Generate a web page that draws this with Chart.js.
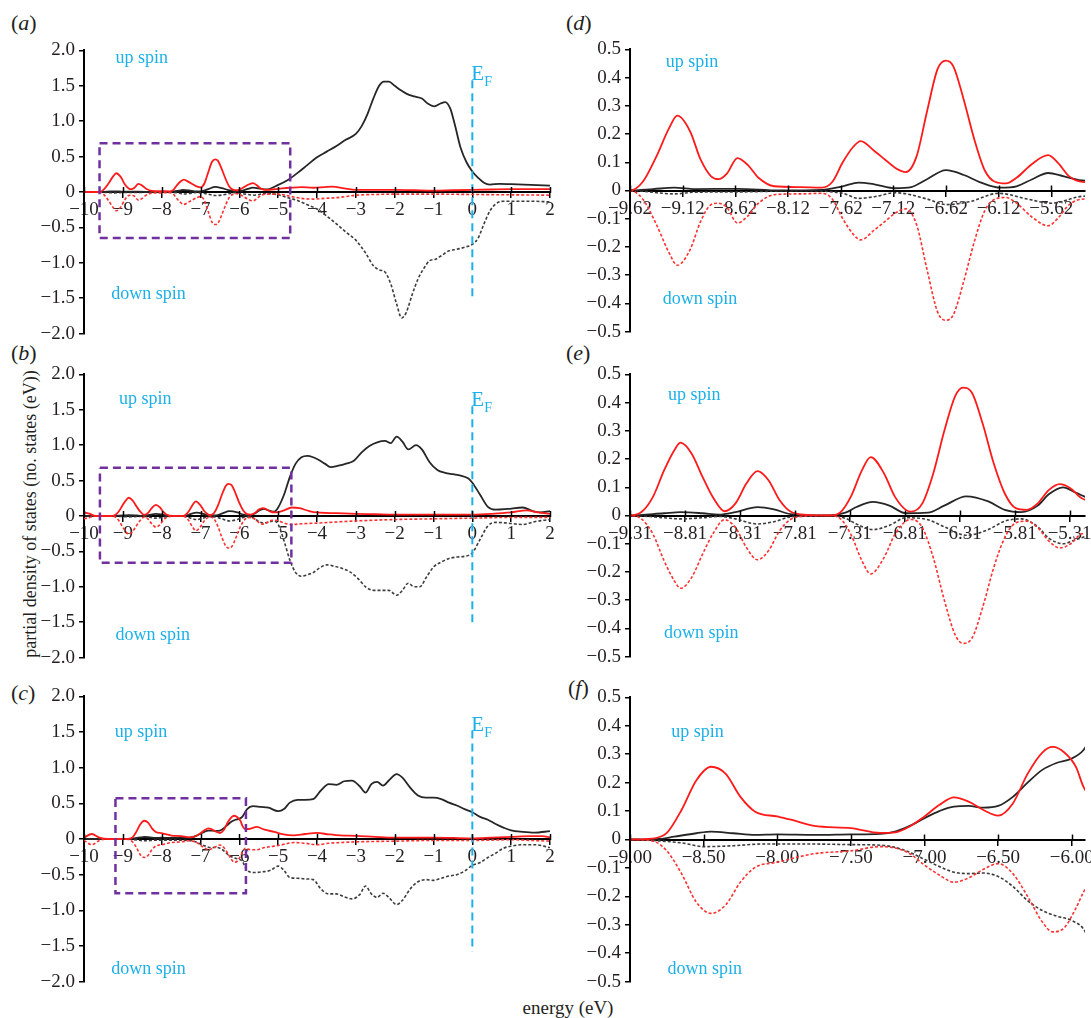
<!DOCTYPE html>
<html>
<head>
<meta charset="utf-8">
<script src="https://cdn.jsdelivr.net/npm/chart.js@4.4.1/dist/chart.umd.min.js"></script>
<style>
  body { margin: 0; background: #fff; }
  #fig { position: relative; width: 1091px; height: 1018px; font-family: 'Liberation Serif', 'DejaVu Serif', serif; color: #231f20; overflow: hidden; }
  #fig canvas { position: absolute; }
  .tag { position: absolute; font-size: 22px; line-height: 22px; }
  .ytitle { position: absolute; left: 30px; top: 514px; transform: translate(-50%, -50%) rotate(-90deg); font-size: 18px; white-space: nowrap; }
  .xtitle { position: absolute; left: 568px; top: 1008px; transform: translate(-50%, -50%); font-size: 19px; white-space: nowrap; }
</style>
</head>
<body>
<div id="fig">
  <div class="tag" style="left:11px;top:12px">(<i>a</i>)</div>
  <div class="tag" style="left:11px;top:342px">(<i>b</i>)</div>
  <div class="tag" style="left:11px;top:682px">(<i>c</i>)</div>
  <div class="tag" style="left:566px;top:12px">(<i>d</i>)</div>
  <div class="tag" style="left:566px;top:342px">(<i>e</i>)</div>
  <div class="tag" style="left:568px;top:677px">(<i>f</i>)</div>
  <div class="ytitle">partial density of states (no. states (eV))</div>
  <div class="xtitle">energy (eV)</div>
</div>
<script>
// tick positions
const leftXTicks = [-10, -9, -8, -7, -6, -5, -4, -3, -2, -1, 0, 1, 2];
const leftYTicks = [-2, -1.5, -1, -0.5, 0, 0.5, 1, 1.5, 2];
const rightYTicks = [-0.5, -0.4, -0.3, -0.2, -0.1, 0, 0.1, 0.2, 0.3, 0.4, 0.5];
const dXTicks = [-9.62, -9.12, -8.62, -8.12, -7.62, -7.12, -6.62, -6.12, -5.62];
const eXTicks = [-9.31, -8.81, -8.31, -7.81, -7.31, -6.81, -6.31, -5.81, -5.31];
const fXTicks = [-9.00, -8.50, -8.00, -7.50, -7.00, -6.50, -6.00];

// panel (a) / (d) series: [energy, pdos]
const aUpBlack = [[-10,0],[-9.62,0],[-9.4,0.005],[-9.2,0.01],[-9.0,0.005],[-8.6,0.006],[-8.2,0],[-7.8,0.002],[-7.6,0.015],[-7.45,0.028],[-7.3,0.022],[-7.1,0.008],[-6.95,0.012],[-6.8,0.04],[-6.62,0.072],[-6.45,0.055],[-6.3,0.03],[-6.1,0.01],[-5.95,0.015],[-5.8,0.04],[-5.65,0.062],[-5.5,0.05],[-5.3,0.035],[-5.0,0.1],[-4.75,0.17],[-4.5,0.27],[-4.25,0.38],[-4.0,0.49],[-3.75,0.57],[-3.5,0.65],[-3.25,0.74],[-3.0,0.82],[-2.85,0.93],[-2.7,1.1],[-2.55,1.32],[-2.4,1.5],[-2.28,1.56],[-2.15,1.56],[-2.0,1.5],[-1.85,1.44],[-1.7,1.39],[-1.5,1.35],[-1.3,1.32],[-1.15,1.25],[-0.98,1.21],[-0.82,1.25],[-0.7,1.27],[-0.57,1.18],[-0.45,0.95],[-0.3,0.62],[-0.15,0.42],[0,0.29],[0.15,0.2],[0.3,0.13],[0.45,0.105],[0.7,0.115],[1.0,0.11],[1.5,0.1],[2.0,0.09]];
const aDownBlack = [[-10,0],[-9.62,0],[-9.2,-0.012],[-9.0,-0.006],[-8.6,-0.005],[-8.0,-0.001],[-7.6,-0.01],[-7.45,-0.028],[-7.3,-0.022],[-7.1,-0.008],[-6.8,-0.03],[-6.62,-0.05],[-6.4,-0.04],[-6.12,-0.01],[-5.85,-0.03],[-5.62,-0.045],[-5.3,-0.02],[-5.0,-0.04],[-4.75,-0.08],[-4.5,-0.12],[-4.25,-0.18],[-4.0,-0.24],[-3.75,-0.34],[-3.5,-0.45],[-3.25,-0.57],[-3.0,-0.68],[-2.75,-0.86],[-2.55,-1.04],[-2.4,-1.1],[-2.25,-1.13],[-2.1,-1.3],[-1.95,-1.58],[-1.82,-1.78],[-1.7,-1.7],[-1.55,-1.45],[-1.4,-1.23],[-1.25,-1.08],[-1.1,-0.97],[-0.95,-0.95],[-0.8,-0.9],[-0.6,-0.83],[-0.4,-0.81],[-0.2,-0.78],[0,-0.74],[0.15,-0.65],[0.3,-0.45],[0.45,-0.27],[0.6,-0.17],[0.8,-0.13],[1.0,-0.13],[1.5,-0.13],[2.0,-0.14]];
const aUpRed = [[-10,0],[-9.62,0],[-9.5,0.03],[-9.37,0.12],[-9.25,0.22],[-9.17,0.265],[-9.05,0.21],[-8.95,0.11],[-8.85,0.05],[-8.78,0.04],[-8.7,0.06],[-8.6,0.115],[-8.5,0.09],[-8.4,0.045],[-8.25,0.015],[-8.0,0.012],[-7.8,0.01],[-7.7,0.03],[-7.6,0.1],[-7.5,0.155],[-7.43,0.175],[-7.3,0.14],[-7.2,0.11],[-7.1,0.08],[-7.0,0.065],[-6.9,0.12],[-6.8,0.28],[-6.7,0.43],[-6.62,0.46],[-6.55,0.44],[-6.45,0.32],[-6.35,0.18],[-6.25,0.07],[-6.15,0.03],[-6.05,0.025],[-5.95,0.045],[-5.8,0.095],[-5.65,0.125],[-5.55,0.095],[-5.45,0.05],[-5.3,0.03],[-5.0,0.045],[-4.7,0.06],[-4.4,0.07],[-4.1,0.06],[-3.8,0.07],[-3.6,0.075],[-3.3,0.05],[-3.0,0.03],[-2.5,0.03],[-2.0,0.03],[-1.5,0.025],[-1.0,0.02],[-0.5,0.025],[0,0.03],[0.5,0.035],[1.0,0.04],[1.5,0.04],[2.0,0.04]];
const aDownRed = [[-10,0],[-9.62,0],[-9.5,-0.03],[-9.37,-0.12],[-9.25,-0.22],[-9.17,-0.265],[-9.05,-0.21],[-8.95,-0.11],[-8.85,-0.05],[-8.78,-0.045],[-8.7,-0.06],[-8.6,-0.115],[-8.5,-0.09],[-8.4,-0.045],[-8.25,-0.015],[-8.0,-0.012],[-7.8,-0.01],[-7.7,-0.03],[-7.6,-0.1],[-7.5,-0.155],[-7.43,-0.175],[-7.3,-0.14],[-7.2,-0.11],[-7.1,-0.08],[-7.0,-0.065],[-6.9,-0.12],[-6.8,-0.28],[-6.7,-0.43],[-6.62,-0.46],[-6.55,-0.44],[-6.45,-0.32],[-6.35,-0.18],[-6.25,-0.07],[-6.15,-0.03],[-6.05,-0.025],[-5.95,-0.045],[-5.8,-0.095],[-5.65,-0.125],[-5.55,-0.095],[-5.45,-0.05],[-5.3,-0.03],[-5.0,-0.03],[-4.7,-0.06],[-4.4,-0.09],[-4.1,-0.1],[-3.8,-0.09],[-3.5,-0.08],[-3.2,-0.06],[-3.0,-0.045],[-2.5,-0.035],[-2.0,-0.03],[-1.0,-0.03],[0,-0.035],[1.0,-0.04],[2.0,-0.045]];

// panel (b) / (e) series
const bUpBlack = [[-10,0],[-9.31,0],[-9.0,0.008],[-8.85,0.012],[-8.65,0.008],[-8.5,0.003],[-8.35,0.012],[-8.15,0.03],[-8.0,0.022],[-7.85,0.005],[-7.5,0],[-7.35,0.01],[-7.25,0.03],[-7.1,0.048],[-6.95,0.035],[-6.8,0.008],[-6.6,0.01],[-6.45,0.035],[-6.25,0.068],[-6.05,0.05],[-5.9,0.02],[-5.75,0.012],[-5.6,0.035],[-5.5,0.075],[-5.37,0.1],[-5.25,0.08],[-5.1,0.06],[-5.0,0.12],[-4.85,0.3],[-4.7,0.55],[-4.55,0.74],[-4.4,0.83],[-4.25,0.85],[-4.1,0.83],[-3.95,0.79],[-3.8,0.74],[-3.65,0.69],[-3.45,0.71],[-3.25,0.74],[-3.05,0.78],[-2.85,0.9],[-2.65,0.99],[-2.45,1.04],[-2.25,1.06],[-2.1,1.03],[-1.95,1.12],[-1.8,1.05],[-1.65,0.94],[-1.45,1.0],[-1.3,0.94],[-1.1,0.76],[-0.9,0.65],[-0.7,0.61],[-0.5,0.59],[-0.3,0.57],[-0.1,0.53],[0,0.47],[0.2,0.3],[0.4,0.13],[0.6,0.09],[0.9,0.1],[1.3,0.12],[1.55,0.07],[1.75,0.05],[2.0,0.07]];
const bDownBlack = [[-10,0],[-9.31,0],[-9.0,-0.008],[-8.85,-0.012],[-8.65,-0.008],[-8.5,-0.003],[-8.35,-0.012],[-8.15,-0.03],[-8.0,-0.022],[-7.85,-0.005],[-7.5,0],[-7.35,-0.01],[-7.25,-0.03],[-7.1,-0.05],[-6.95,-0.035],[-6.8,-0.008],[-6.6,-0.015],[-6.45,-0.04],[-6.25,-0.07],[-6.05,-0.05],[-5.9,-0.02],[-5.75,-0.012],[-5.6,-0.04],[-5.5,-0.08],[-5.37,-0.1],[-5.25,-0.085],[-5.1,-0.07],[-5.0,-0.12],[-4.85,-0.35],[-4.7,-0.62],[-4.55,-0.8],[-4.4,-0.85],[-4.25,-0.83],[-4.1,-0.8],[-3.95,-0.74],[-3.75,-0.69],[-3.55,-0.71],[-3.35,-0.74],[-3.15,-0.79],[-2.95,-0.88],[-2.75,-1.0],[-2.55,-1.05],[-2.35,-1.05],[-2.15,-1.05],[-1.95,-1.12],[-1.8,-1.05],[-1.65,-0.95],[-1.5,-1.0],[-1.35,-1.0],[-1.2,-0.88],[-1.0,-0.72],[-0.8,-0.65],[-0.6,-0.6],[-0.4,-0.58],[-0.2,-0.57],[0,-0.52],[0.2,-0.33],[0.4,-0.14],[0.6,-0.09],[0.9,-0.1],[1.3,-0.12],[1.6,-0.08],[2.0,-0.05]];
const bUpRed = [[-10,0.05],[-9.85,0.03],[-9.7,0],[-9.31,0],[-9.2,0.014],[-9.1,0.067],[-9.0,0.16],[-8.9,0.236],[-8.85,0.258],[-8.75,0.22],[-8.65,0.137],[-8.55,0.061],[-8.45,0.015],[-8.35,0.043],[-8.25,0.114],[-8.15,0.157],[-8.05,0.125],[-7.95,0.055],[-7.85,0.014],[-7.7,0.002],[-7.5,0],[-7.4,0.01],[-7.3,0.067],[-7.2,0.16],[-7.12,0.207],[-7.0,0.15],[-6.9,0.067],[-6.8,0.02],[-6.75,0.014],[-6.65,0.043],[-6.55,0.15],[-6.45,0.3],[-6.35,0.424],[-6.28,0.453],[-6.2,0.436],[-6.1,0.324],[-6.0,0.184],[-5.9,0.078],[-5.8,0.026],[-5.7,0.02],[-5.6,0.043],[-5.5,0.09],[-5.4,0.111],[-5.3,0.096],[-5.2,0.061],[-5.05,0.05],[-4.85,0.08],[-4.65,0.12],[-4.45,0.11],[-4.2,0.07],[-4.0,0.05],[-3.5,0.04],[-3.0,0.03],[-2.5,0.025],[-2.0,0.02],[-1.0,0.02],[0,0.02],[0.5,0.03],[1.0,0.05],[1.4,0.08],[1.7,0.05],[2.0,0.03]];
const bDownRed = [[-10,-0.04],[-9.85,-0.02],[-9.7,0],[-9.31,0],[-9.2,-0.014],[-9.1,-0.067],[-9.0,-0.16],[-8.9,-0.236],[-8.85,-0.258],[-8.75,-0.22],[-8.65,-0.137],[-8.55,-0.061],[-8.45,-0.015],[-8.35,-0.043],[-8.25,-0.114],[-8.15,-0.157],[-8.05,-0.125],[-7.95,-0.055],[-7.85,-0.014],[-7.7,-0.002],[-7.5,0],[-7.4,-0.01],[-7.3,-0.067],[-7.2,-0.16],[-7.12,-0.207],[-7.0,-0.15],[-6.9,-0.067],[-6.8,-0.02],[-6.75,-0.014],[-6.65,-0.043],[-6.55,-0.15],[-6.45,-0.3],[-6.35,-0.424],[-6.28,-0.453],[-6.2,-0.436],[-6.1,-0.324],[-6.0,-0.184],[-5.9,-0.078],[-5.8,-0.026],[-5.7,-0.02],[-5.6,-0.043],[-5.5,-0.09],[-5.4,-0.115],[-5.3,-0.1],[-5.2,-0.065],[-5.05,-0.06],[-4.85,-0.1],[-4.65,-0.12],[-4.4,-0.11],[-4.0,-0.1],[-3.0,-0.07],[-2.0,-0.05],[-1.0,-0.04],[0,-0.03],[1.0,-0.02],[2.0,-0.02]];

// panel (c) / (f) series
const cUpBlack = [[-10,0],[-9.0,0],[-8.8,0.002],[-8.7,0.01],[-8.55,0.022],[-8.45,0.028],[-8.3,0.022],[-8.15,0.016],[-8.0,0.018],[-7.75,0.016],[-7.5,0.018],[-7.3,0.02],[-7.2,0.028],[-7.1,0.048],[-7.0,0.075],[-6.9,0.1],[-6.8,0.116],[-6.7,0.118],[-6.6,0.112],[-6.5,0.118],[-6.4,0.15],[-6.3,0.2],[-6.2,0.245],[-6.1,0.27],[-6.0,0.285],[-5.92,0.315],[-5.8,0.42],[-5.65,0.46],[-5.45,0.45],[-5.25,0.44],[-5.0,0.39],[-4.85,0.42],[-4.7,0.51],[-4.5,0.55],[-4.3,0.55],[-4.1,0.56],[-3.9,0.68],[-3.7,0.77],[-3.5,0.76],[-3.3,0.81],[-3.1,0.82],[-2.9,0.74],[-2.75,0.65],[-2.6,0.77],[-2.45,0.8],[-2.3,0.75],[-2.15,0.82],[-1.95,0.91],[-1.8,0.86],[-1.6,0.72],[-1.4,0.61],[-1.2,0.58],[-1.0,0.58],[-0.8,0.56],[-0.6,0.51],[-0.4,0.47],[-0.2,0.42],[0,0.375],[0.2,0.31],[0.4,0.27],[0.6,0.21],[0.8,0.16],[1.0,0.12],[1.3,0.1],[1.6,0.09],[2.0,0.11]];
const cDownBlack = [[-10,0],[-9.0,0],[-8.8,-0.005],[-8.65,-0.012],[-8.5,-0.025],[-8.3,-0.022],[-8.1,-0.016],[-7.75,-0.016],[-7.5,-0.018],[-7.3,-0.02],[-7.15,-0.035],[-7.0,-0.07],[-6.9,-0.095],[-6.8,-0.115],[-6.7,-0.12],[-6.6,-0.118],[-6.5,-0.13],[-6.4,-0.165],[-6.3,-0.215],[-6.2,-0.25],[-6.1,-0.27],[-6.0,-0.285],[-5.92,-0.315],[-5.8,-0.44],[-5.6,-0.47],[-5.4,-0.46],[-5.2,-0.44],[-5.0,-0.38],[-4.85,-0.44],[-4.7,-0.54],[-4.5,-0.55],[-4.3,-0.56],[-4.1,-0.57],[-3.9,-0.7],[-3.7,-0.77],[-3.5,-0.77],[-3.3,-0.81],[-3.1,-0.84],[-2.9,-0.78],[-2.75,-0.66],[-2.6,-0.77],[-2.45,-0.82],[-2.3,-0.76],[-2.15,-0.82],[-1.95,-0.92],[-1.8,-0.86],[-1.6,-0.7],[-1.4,-0.6],[-1.2,-0.57],[-1.0,-0.58],[-0.8,-0.55],[-0.6,-0.52],[-0.4,-0.5],[-0.2,-0.45],[0,-0.37],[0.2,-0.33],[0.4,-0.26],[0.6,-0.2],[0.8,-0.13],[1.0,-0.1],[1.3,-0.08],[1.6,-0.08],[2.0,-0.12]];
const cUpRed = [[-10,0.02],[-9.8,0.07],[-9.6,0.02],[-9.4,0],[-9.0,0],[-8.85,0.003],[-8.75,0.023],[-8.65,0.104],[-8.55,0.208],[-8.45,0.256],[-8.35,0.231],[-8.25,0.15],[-8.15,0.098],[-8.0,0.081],[-7.9,0.069],[-7.75,0.048],[-7.5,0.04],[-7.3,0.023],[-7.2,0.025],[-7.1,0.046],[-7.0,0.081],[-6.9,0.121],[-6.8,0.148],[-6.7,0.133],[-6.6,0.104],[-6.5,0.084],[-6.4,0.127],[-6.3,0.231],[-6.2,0.306],[-6.13,0.326],[-6.05,0.306],[-5.97,0.254],[-5.92,0.185],[-5.85,0.14],[-5.75,0.14],[-5.55,0.17],[-5.35,0.13],[-5.1,0.1],[-4.9,0.07],[-4.6,0.05],[-4.3,0.07],[-4.0,0.085],[-3.7,0.065],[-3.4,0.05],[-3.0,0.045],[-2.5,0.03],[-2.0,0.02],[-1.0,0.02],[-0.5,0.015],[0,0.01],[0.5,0.02],[1.0,0.03],[1.5,0.04],[1.8,0.04],[2.0,0.02]];
const cDownRed = [[-10,-0.02],[-9.8,-0.08],[-9.6,-0.02],[-9.4,0],[-9.0,0],[-8.85,-0.005],[-8.75,-0.04],[-8.65,-0.12],[-8.55,-0.22],[-8.45,-0.26],[-8.35,-0.23],[-8.25,-0.15],[-8.15,-0.098],[-8.0,-0.08],[-7.75,-0.05],[-7.5,-0.04],[-7.3,-0.025],[-7.2,-0.03],[-7.1,-0.05],[-7.0,-0.09],[-6.9,-0.125],[-6.8,-0.15],[-6.7,-0.135],[-6.6,-0.105],[-6.5,-0.085],[-6.4,-0.12],[-6.3,-0.2],[-6.2,-0.29],[-6.13,-0.325],[-6.05,-0.31],[-5.97,-0.24],[-5.92,-0.185],[-5.85,-0.13],[-5.7,-0.15],[-5.55,-0.15],[-5.35,-0.12],[-5.1,-0.1],[-4.9,-0.08],[-4.6,-0.05],[-4.3,-0.06],[-4.0,-0.08],[-3.7,-0.06],[-3.4,-0.05],[-3.0,-0.04],[-2.0,-0.03],[-1.0,-0.02],[0,-0.02],[1.0,-0.01],[1.5,-0.02],[2.0,-0.03]];

// marked windows [xFrom, xTo, yTop, yBottom] and Fermi line extents [top, bottom]
const boxA = [-9.6, -4.69, 0.69, -0.65];
const boxB = [-9.59, -4.66, 0.68, -0.66];
const boxC = [-9.19, -5.83, 0.57, -0.76];
const efA = [1.58, -1.51];
const efB = [1.55, -1.54];
const efC = [1.52, -1.58];

const CYAN = '#1cb0e8';
const FONT = "'Liberation Serif', 'DejaVu Serif', serif";
const minus = s => s.replace('-', '\u2212');

// in-plot labels and the crossing tick marks on the zero line
const panelText = {
  id: 'panelText',
  afterDatasetsDraw(chart, args, opts) {
    const { ctx } = chart;
    const x = chart.scales.x, y = chart.scales.y;
    ctx.save();
    const y0 = y.getPixelForValue(0);
    ctx.strokeStyle = '#000';
    ctx.lineWidth = 1.5;
    x.ticks.forEach(t => {
      const px = Math.round(x.getPixelForValue(t.value)) + 0.5;
      ctx.beginPath();
      ctx.moveTo(px, y0 - 5);
      ctx.lineTo(px, y0 + 1);
      ctx.stroke();
    });
    ctx.fillStyle = CYAN;
    ctx.font = '18px ' + FONT;
    ctx.textAlign = 'left';
    ctx.textBaseline = 'middle';
    ctx.fillText('up spin', x.getPixelForValue(opts.up[0]), y.getPixelForValue(opts.up[1]));
    ctx.fillText('down spin', x.getPixelForValue(opts.down[0]), y.getPixelForValue(opts.down[1]));
    if (opts.ef) {
      const px = x.getPixelForValue(0) - 1;
      const py = y.getPixelForValue(opts.ef[0]);
      ctx.textBaseline = 'alphabetic';
      ctx.font = '21px ' + FONT;
      ctx.fillText('E', px, py);
      const w = ctx.measureText('E').width;
      ctx.font = '14px ' + FONT;
      ctx.fillText('F', px + w, py + 6);
    }
    ctx.restore();
  }
};

const toXY = arr => arr.map(p => ({ x: p[0], y: p[1] }));

function makePanel(p) {
  const yW = 52, padT = 14, padB = 14, padR = 12;
  const [aL, aT, aR, aB] = p.area;
  const left = aL - yW, top = aT - padT;
  const w = aR - left + padR, h = aB - aT + padT + padB;
  const canvas = document.createElement('canvas');
  canvas.width = w; canvas.height = h;
  canvas.style.left = left + 'px'; canvas.style.top = top + 'px';
  canvas.style.width = w + 'px'; canvas.style.height = h + 'px';
  document.getElementById('fig').appendChild(canvas);

  const line = (data, color, dashed) => ({
    data: toXY(data), borderColor: color, borderWidth: dashed ? 1.6 : 1.8,
    borderDash: dashed ? [3, 2] : [], pointRadius: 0, cubicInterpolationMode: 'monotone', fill: false
  });
  const datasets = [];
  if (p.box) {
    const [x0, x1, y0, y1] = p.box;
    datasets.push({ data: toXY([[x0, y0], [x1, y0], [x1, y1], [x0, y1], [x0, y0]]), borderColor: '#7030a0',
      borderWidth: 2.5, borderDash: [8, 5], pointRadius: 0, tension: 0, fill: false });
  }
  if (p.ef) {
    datasets.push({ data: toXY([[0, p.ef[0]], [0, p.ef[1]]]), borderColor: CYAN, borderWidth: 2,
      borderDash: [8, 5], pointRadius: 0, tension: 0, fill: false });
  }
  datasets.push(line(p.upRed, '#ff1a1a', false));
  datasets.push(line(p.downRed, '#ff3030', true));
  datasets.push(line(p.upBlack, '#262626', false));
  datasets.push(line(p.downBlack, '#3c3c3c', true));

  const tickFont = { family: FONT, size: 19 };
  new Chart(canvas, {
    type: 'line',
    data: { datasets },
    options: {
      responsive: false,
      animation: false,
      events: [],
      layout: { padding: { top: padT, bottom: padB, left: 0, right: padR } },
      plugins: {
        legend: { display: false },
        tooltip: { enabled: false },
        panelText: { up: p.up, down: p.down, ef: p.ef }
      },
      scales: {
        x: {
          type: 'linear', min: p.xMin, max: p.xMax, position: { y: 0 },
          afterBuildTicks: s => { s.ticks = p.xTicks.map(v => ({ value: v })); },
          ticks: { font: tickFont, color: '#231f20', maxRotation: 0, autoSkip: false, padding: 2,
            callback: v => minus(p.xFmt(v)) },
          grid: { drawOnChartArea: false, tickLength: 5, color: '#000', lineWidth: 1.5 },
          border: { color: '#000', width: 2 }
        },
        y: {
          type: 'linear', min: p.yMin, max: p.yMax,
          afterBuildTicks: s => { s.ticks = p.yTicks.map(v => ({ value: v })); },
          afterFit: s => { s.width = yW; },
          ticks: { font: tickFont, color: '#231f20', padding: 4,
            callback: v => Math.abs(v) < 1e-9 ? '0' : minus(v.toFixed(1)) },
          grid: { drawOnChartArea: false, tickLength: 5, color: '#000', lineWidth: 1.5 },
          border: { color: '#000', width: 2 }
        }
      }
    },
    plugins: [panelText]
  });
}

const intFmt = v => String(Math.round(v));
const dec2 = v => v.toFixed(2);

const panels = [
  { area: [84, 49, 550, 335], xMin: -10, xMax: 2, yMin: -2, yMax: 2, xTicks: leftXTicks, yTicks: leftYTicks, xFmt: intFmt,
    upBlack: aUpBlack, downBlack: aDownBlack, upRed: aUpRed, downRed: aDownRed, box: boxA, ef: efA,
    up: [-9.19, 1.89], down: [-9.3, -1.45] },
  { area: [84, 373, 550, 659], xMin: -10, xMax: 2, yMin: -2, yMax: 2, xTicks: leftXTicks, yTicks: leftYTicks, xFmt: intFmt,
    upBlack: bUpBlack, downBlack: bDownBlack, upRed: bUpRed, downRed: bDownRed, box: boxB, ef: efB,
    up: [-9.1, 1.65], down: [-9.19, -1.68] },
  { area: [84, 695, 550, 983], xMin: -10, xMax: 2, yMin: -2, yMax: 2, xTicks: leftXTicks, yTicks: leftYTicks, xFmt: intFmt,
    upBlack: cUpBlack, downBlack: cDownBlack, upRed: cUpRed, downRed: cDownRed, box: boxC, ef: efC,
    up: [-9.21, 1.5], down: [-9.3, -1.83] },
  { area: [630, 48, 1085, 333], xMin: -9.62, xMax: -5.30, yMin: -0.5, yMax: 0.5, xTicks: dXTicks, yTicks: rightYTicks, xFmt: dec2,
    upBlack: aUpBlack, downBlack: aDownBlack, upRed: aUpRed, downRed: aDownRed,
    up: [-9.28, 0.456], down: [-9.31, -0.386] },
  { area: [630, 373, 1085, 658], xMin: -9.31, xMax: -5.17, yMin: -0.5, yMax: 0.5, xTicks: eXTicks, yTicks: rightYTicks, xFmt: dec2,
    upBlack: bUpBlack, downBlack: bDownBlack, upRed: bUpRed, downRed: bDownRed,
    up: [-8.965, 0.427], down: [-9.0, -0.417] },
  { area: [630, 696, 1085, 983], xMin: -9.00, xMax: -5.91, yMin: -0.5, yMax: 0.5, xTicks: fXTicks, yTicks: rightYTicks, xFmt: dec2,
    upBlack: cUpBlack, downBlack: cDownBlack, upRed: cUpRed, downRed: cDownRed,
    up: [-8.72, 0.376], down: [-8.746, -0.457] }
];

panels.forEach(makePanel);
</script>
</body>
</html>
